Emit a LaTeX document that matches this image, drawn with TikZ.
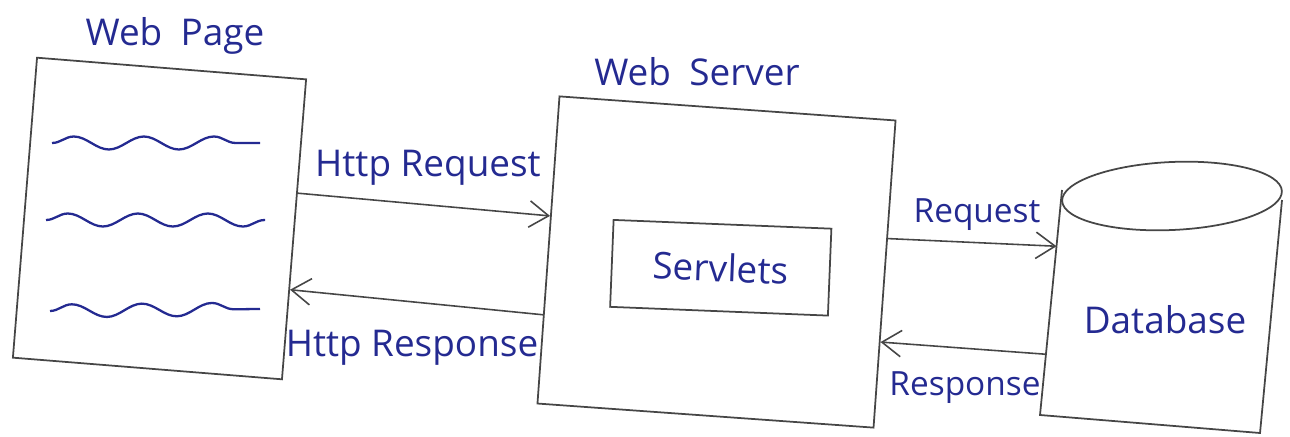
\documentclass[tikz,border=0pt]{standalone}
\usepackage{fontspec}
\setmainfont{Open Sans}
\usetikzlibrary{arrows.meta,calc,decorations.pathmorphing}
\definecolor{inkblue}{RGB}{36,42,145}
\definecolor{pencil}{RGB}{70,70,70}
\begin{document}
\begin{tikzpicture}[x=0.02cm,y=-0.02cm,
  box/.style={draw=pencil,line width=1pt,rectangle,inner sep=0pt},
  hand/.style={text=inkblue,font=\fontsize{21}{24}\selectfont},
  small/.style={text=inkblue,font=\fontsize{19}{22}\selectfont},
  wave/.style={draw=inkblue,line width=1.3pt,decorate,decoration={snake,segment length=1.4cm,amplitude=0.13cm}},
  arr/.style={draw=pencil,line width=0.9pt,-{Straight Barb[length=11pt,width=15pt,line width=0.9pt]}}]
\useasboundingbox (0,0) rectangle (1290,436);
\node[box,minimum width=5.4cm,minimum height=6.02cm,rotate=-4.6] (page) at (159.5,218.5) {};
\node[box,minimum width=6.74cm,minimum height=6.16cm,rotate=-4.1] (server) at (716.5,262) {};
\node[box,minimum width=4.36cm,minimum height=1.74cm,rotate=-2.3,hand] (servlets) at (720.75,267.75) {Servlets};
\coordinate (db tl) at (1062,190);
\coordinate (db tr) at (1282,200);
\coordinate (db bl) at (1040,415);
\coordinate (db br) at (1260,433);
\draw[draw=pencil,line width=1pt] (db tr) -- (db br) -- (db bl) -- (db tl);
\draw[draw=pencil,line width=1pt,rotate around={2.6:(1172,196)}] (1172,196) ellipse (2.2cm and 0.68cm);
\node[hand] (pagelabel) at (175,36) {Web\enspace Page};
\node[hand] (serverlabel) at (697,72) {Web\enspace Server};
\node[hand] (dblabel) at (1165,320) {Database};
\draw[wave] (52,143) -- (260,143);
\draw[wave] (46,220) -- (265,220);
\draw[wave] (50,311) -- (260,309);
\draw[arr] ($(page.north east)!0.38!(page.south east)$) -- ($(server.north west)!0.39!(server.south west)$);
\draw[arr] ($(server.north west)!0.71!(server.south west)$) -- ($(page.north east)!0.70!(page.south east)$);
\draw[arr] ($(server.north east)!0.385!(server.south east)$) -- ($(db tl)!0.25!(db bl)$);
\draw[arr] ($(db tl)!0.73!(db bl)$) -- ($(server.north east)!0.72!(server.south east)$);
\node[hand] (reqlabel) at (428,168) {Http Request};
\node[hand] (resplabel) at (412,348) {Http Response};
\node[small] (dbreqlabel) at (977,215) {Request};
\node[small] (dbresplabel) at (965,388) {Response};
\end{tikzpicture}
\end{document}
